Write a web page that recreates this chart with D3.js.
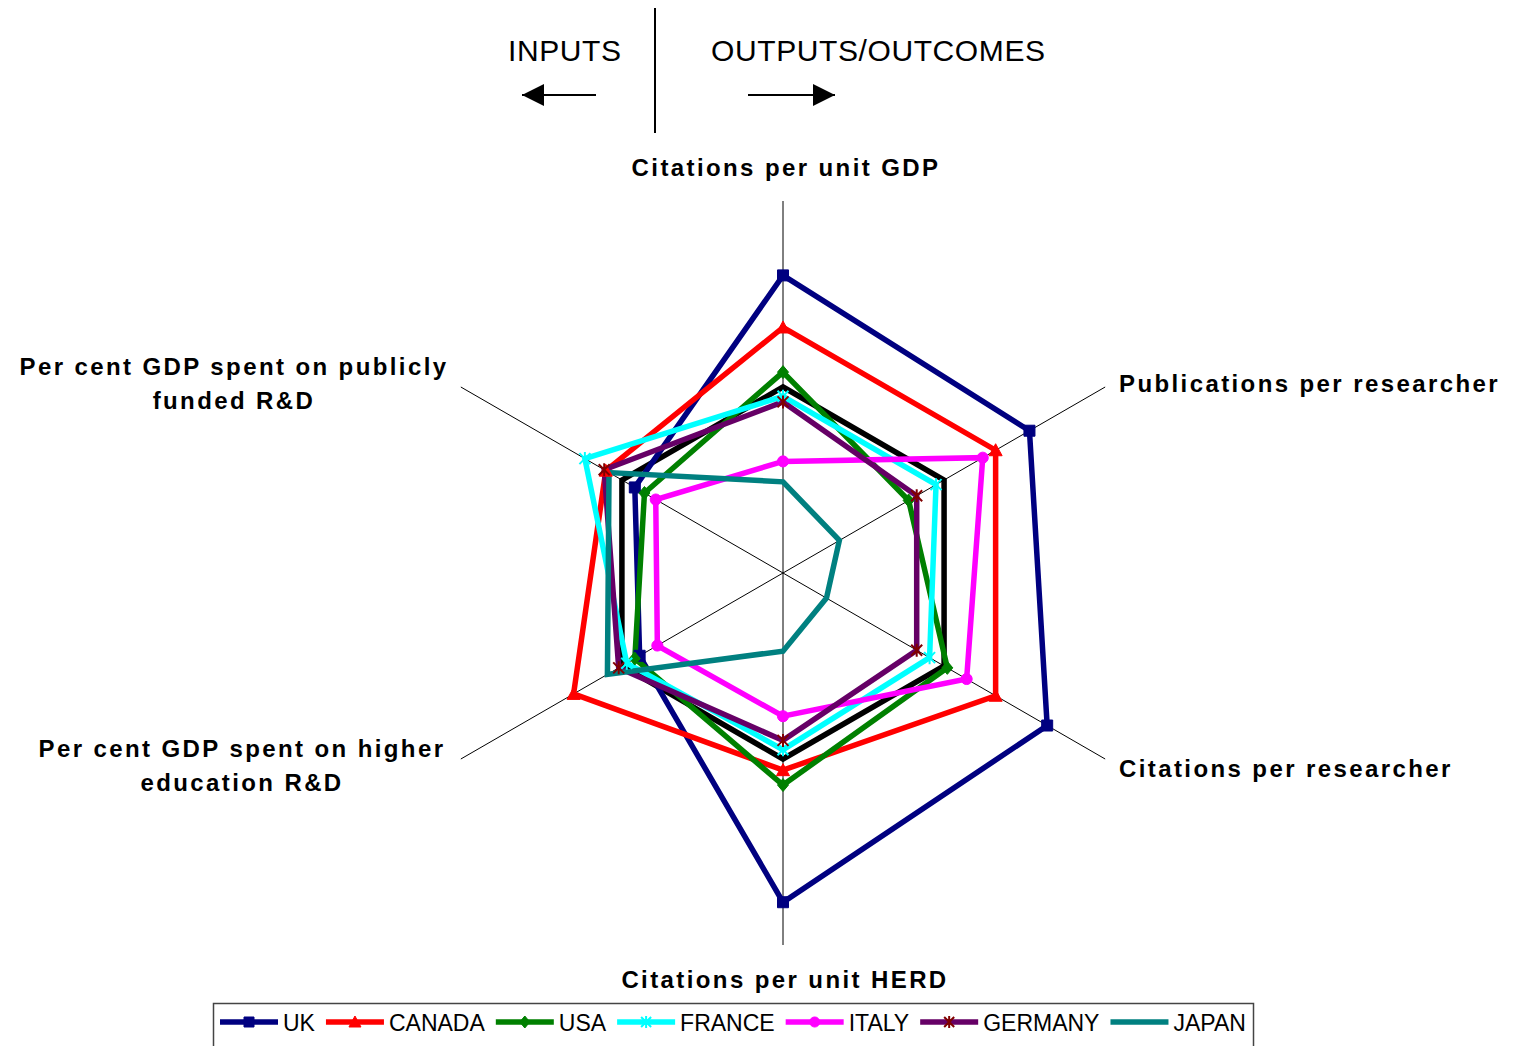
<!DOCTYPE html>
<html lang="en">
    <head>
        <meta charset="utf-8">
        <title>Research radar</title>
        <script src="https://d3js.org/d3.v7.min.js"></script>
        <style type="text/css">
            body { margin: 0; background: #fff; }
            svg { display: block; }
            .axis-label {
                font-family: "Liberation Sans", Arial, sans-serif;
                font-weight: bold;
                font-size: 24px;
                letter-spacing: 2.4px;
            }
            .legend-text {
                font-family: "Liberation Sans", Arial, sans-serif;
                font-size: 23px;
            }
            .note {
                font-family: "Liberation Sans", Arial, sans-serif;
                font-size: 30px;
                letter-spacing: 0.6px;
            }
        </style>
    </head>
    <body>
        <svg width="1513" height="1046"></svg>
        <script type="text/javascript">

            // axes, clockwise from the top
            const axes = [
                ["Citations per unit GDP"],
                ["Publications per researcher"],
                ["Citations per researcher"],
                ["Citations per unit HERD"],
                ["Per cent GDP spent on higher", "education R&D"],
                ["Per cent GDP spent on publicly", "funded R&D"]
            ];

            const countries = ["UK", "CANADA", "USA", "FRANCE", "ITALY", "GERMANY", "JAPAN"];

            const uk      = [1.60, 1.53, 1.64, 1.77, 0.89, 0.92];
            const canada  = [1.32, 1.32, 1.32, 1.06, 1.30, 1.10];
            const usa     = [1.08, 0.78, 1.02, 1.14, 0.92, 0.86];
            const france  = [0.95, 0.95, 0.91, 0.95, 0.97, 1.23];
            const italy   = [0.60, 1.24, 1.14, 0.77, 0.78, 0.79];
            const germany = [0.92, 0.83, 0.83, 0.90, 1.02, 1.11];
            const japan   = [0.49, 0.35, 0.27, 0.42, 1.09, 1.08];
            const reference = [1, 1, 1, 1, 1, 1];   // black hexagon, not in legend

            const seriesValues = [uk, canada, usa, france, italy, germany, japan];
            const lineColors = ["#000080", "#FF0000", "#008000", "#00FFFF", "#FF00FF", "#660066", "#008080"];
            const markerColors = ["#000080", "#FF0000", "#008000", "#00FFFF", "#FF00FF", "#800000", null];
            const markerKinds = ["square", "triangle", "diamond", "star", "circle", "star", null];

            const svg = d3.select("svg");
            const cx = 783, cy = 573;
            const r = d3.scaleLinear().domain([0, 2]).range([0, 372]);
            const angle = i => i * Math.PI / 3;
            const pt = (i, v) => [cx + r(v) * Math.sin(angle(i)), cy - r(v) * Math.cos(angle(i))];

            // top annotation
            svg.append("line").attr("x1", 655).attr("x2", 655).attr("y1", 8).attr("y2", 133)
               .attr("stroke", "#000").attr("stroke-width", 2);
            svg.append("text").attr("class", "note").attr("x", 508).attr("y", 61).text("INPUTS");
            svg.append("text").attr("class", "note").attr("x", 711).attr("y", 61).text("OUTPUTS/OUTCOMES");
            const defs = svg.append("defs");
            defs.append("marker").attr("id", "arrow").attr("viewBox", "0 0 10 10")
                .attr("refX", 10).attr("refY", 5).attr("markerWidth", 22).attr("markerHeight", 22)
                .attr("markerUnits", "userSpaceOnUse").attr("orient", "auto")
                .append("path").attr("d", "M0,0L10,5L0,10Z").attr("fill", "#000");
            const arrowLine = (x1, x2) => svg.append("line")
                .attr("x1", x1).attr("x2", x2).attr("y1", 95).attr("y2", 95)
                .attr("stroke", "#000").attr("stroke-width", 2)
                .attr("marker-end", "url(#arrow)");
            arrowLine(596, 522);
            arrowLine(748, 835);

            // axis lines
            svg.append("g").selectAll("line")
             .data(axes)
             .enter()
             .append("line")
             .attr("x1", cx).attr("y1", cy)
             .attr("x2", (d, i) => pt(i, 2)[0])
             .attr("y2", (d, i) => pt(i, 2)[1])
             .attr("stroke", "#000").attr("stroke-width", 1);

            // axis labels
            const labelPos = [
                {x: 786, y: 176, anchor: "middle"},
                {x: 1119, y: 392, anchor: "start"},
                {x: 1119, y: 777, anchor: "start"},
                {x: 785, y: 988, anchor: "middle"},
                {x: 242, y: 757, anchor: "middle"},
                {x: 234, y: 375, anchor: "middle"}
            ];
            axes.forEach((lines, i) => {
                const t = svg.append("text").attr("class", "axis-label")
                             .attr("text-anchor", labelPos[i].anchor);
                lines.forEach((s, j) => {
                    t.append("tspan").attr("x", labelPos[i].x)
                     .attr("y", labelPos[i].y + j * 34).text(s);
                });
            });

            // marker shapes
            function markerPath(kind, s) {
                const h = s / 2;
                if (kind === "square") return `M${-h},${-h}H${h}V${h}H${-h}Z`;
                if (kind === "triangle") return `M0,${-h - 1}L${h + 1},${h}L${-h - 1},${h}Z`;
                if (kind === "diamond") return `M0,${-h - 1}L${h},0L0,${h + 1}L${-h},0Z`;
                if (kind === "circle") return d3.symbol(d3.symbolCircle, s * s * 0.8)();
                if (kind === "star") return `M${-h},${-h}L${h},${h}M${-h},${h}L${h},${-h}M0,${-h - 1}V${h + 1}`;
                return "";
            }
            function drawMarker(sel, kind, color, s) {
                const filled = kind !== "star";
                sel.append("path").attr("d", markerPath(kind, s))
                   .attr("fill", filled ? color : "none")
                   .attr("stroke", color)
                   .attr("stroke-width", filled ? 1 : 2);
            }

            const radial = d3.lineRadial()
                             .angle((d, i) => angle(i))
                             .radius(d => r(d))
                             .curve(d3.curveLinearClosed);

            const plot = svg.append("g").attr("transform", `translate(${cx},${cy})`);

            plot.append("path").attr("d", radial(reference))
                .attr("fill", "none").attr("stroke", "#000").attr("stroke-width", 5.5);

            seriesValues.forEach((vals, k) => {
                plot.append("path").attr("d", radial(vals))
                    .attr("fill", "none").attr("stroke", lineColors[k]).attr("stroke-width", 5.5);
            });
            seriesValues.forEach((vals, k) => {
                if (!markerKinds[k]) return;
                vals.forEach((v, i) => {
                    const p = pt(i, v);
                    const m = svg.append("g").attr("transform", `translate(${p[0]},${p[1]})`);
                    drawMarker(m, markerKinds[k], markerColors[k], 11);
                });
            });

            // legend
            const legend = svg.append("g");
            legend.append("rect").attr("x", 213.5).attr("y", 1003.5).attr("width", 1040).attr("height", 60)
                  .attr("fill", "#fff").attr("stroke", "#444").attr("stroke-width", 1.5);
            let lx = 220;
            countries.forEach((name, k) => {
                legend.append("line").attr("x1", lx).attr("x2", lx + 58)
                      .attr("y1", 1022).attr("y2", 1022)
                      .attr("stroke", lineColors[k]).attr("stroke-width", 5.5);
                if (markerKinds[k]) {
                    const m = legend.append("g").attr("transform", `translate(${lx + 29},1022)`);
                    drawMarker(m, markerKinds[k], markerColors[k], 10);
                }
                const t = legend.append("text").attr("class", "legend-text")
                                .attr("x", lx + 63).attr("y", 1031).text(name);
                lx += 63 + t.node().getComputedTextLength() + 11;
            });

        </script>
    </body>
</html>
